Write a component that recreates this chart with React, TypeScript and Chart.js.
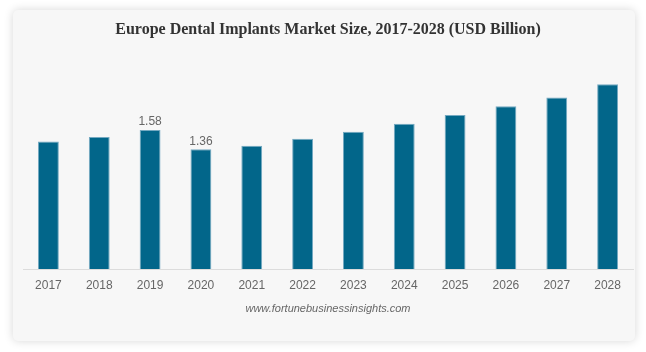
import React, { useEffect, useRef } from "react";
import { Chart, registerables } from "chart.js";

Chart.register(...registerables);

const categories = ["2017", "2018", "2019", "2020", "2021", "2022", "2023", "2024", "2025", "2026", "2027", "2028"];
const marketSize = [1.45, 1.5, 1.58, 1.36, 1.4, 1.48, 1.56, 1.65, 1.75, 1.85, 1.95, 2.1];
const labeledYears = ["2019", "2020"];
const titleText = "Europe Dental Implants Market Size, 2017-2028 (USD Billion)";
const sourceText = "www.fortunebusinessinsights.com";
const yMax = 2.3;

const SANS = "'Liberation Sans', Arial, sans-serif";
const SERIF = "'Liberation Serif', 'Times New Roman', serif";

const valueLabels = {
  id: "valueLabels",
  afterDatasetsDraw(chart: any) {
    const ctx = chart.ctx;
    const meta = chart.getDatasetMeta(0);
    ctx.save();
    ctx.font = `12px ${SANS}`;
    ctx.fillStyle = "#666666";
    ctx.textAlign = "center";
    ctx.textBaseline = "middle";
    meta.data.forEach((el: any, i: number) => {
      const cat = chart.data.labels[i];
      if (!labeledYears.includes(cat)) return;
      const v = chart.data.datasets[0].data[i] as number;
      ctx.fillText(v.toFixed(2), el.x, el.y - 8);
    });
    ctx.restore();
  },
};

export default function App() {
  const ref = useRef<HTMLCanvasElement | null>(null);

  useEffect(() => {
    if (!ref.current) return;
    const chart = new Chart(ref.current, {
      type: "bar",
      data: {
        labels: categories,
        datasets: [
          {
            data: marketSize,
            backgroundColor: "#02668a",
            borderColor: "#74a9c1",
            borderWidth: { top: 1, left: 1, right: 1, bottom: 0 },
            barPercentage: 0.41,
            categoryPercentage: 1,
          },
        ],
      },
      options: {
        animation: false,
        responsive: false,
        layout: { padding: { top: 0, left: 10, right: 2, bottom: 25 } },
        plugins: {
          legend: { display: false },
          tooltip: { enabled: false },
          title: {
            display: true,
            text: titleText,
            color: "#333333",
            font: { family: SERIF, size: 16, weight: "bold" },
            padding: { top: 10, bottom: 27.4 },
          },
        },
        scales: {
          x: {
            grid: { display: false, drawTicks: false },
            border: { display: true, color: "#dcdcdc", width: 1 },
            ticks: {
              padding: 9,
              color: "#666666",
              font: { family: SANS, size: 12 },
              maxRotation: 0,
              autoSkip: false,
            },
            title: {
              display: true,
              text: sourceText,
              color: "#666666",
              font: { family: SANS, size: 11, style: "italic" },
              padding: { top: 1.3, bottom: 0 },
            },
          },
          y: { display: false, min: 0, max: yMax },
        },
      },
      plugins: [valueLabels],
    });
    return () => chart.destroy();
  }, []);

  return (
    <div
      style={{
        position: "absolute",
        left: 13,
        top: 10,
        width: 622,
        height: 331,
        background: "#f7f7f7",
        borderRadius: 5,
        boxShadow: "0 0 10px rgba(0,0,0,0.16)",
      }}
    >
      <canvas ref={ref} width={622} height={331} style={{ display: "block" }} />
    </div>
  );
}
